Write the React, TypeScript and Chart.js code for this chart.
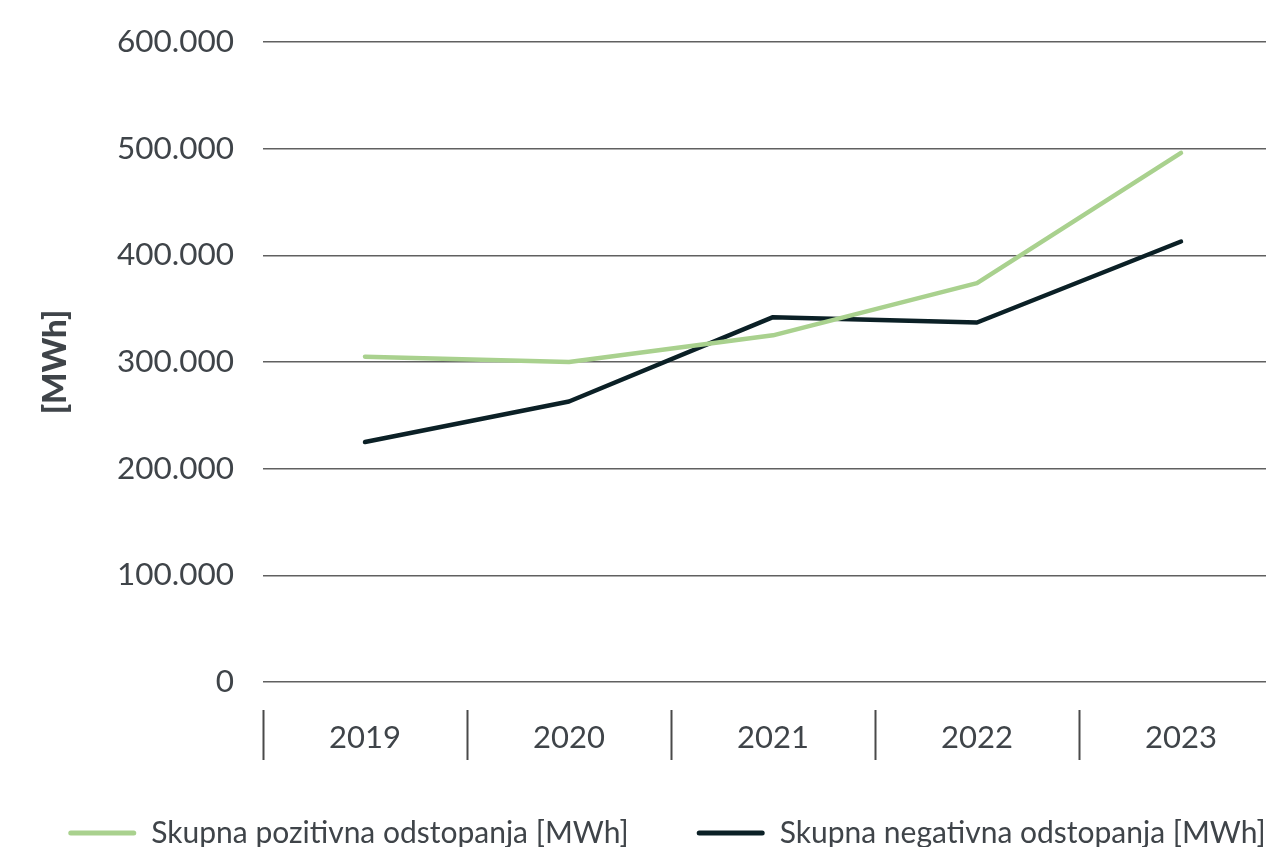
import React, { useEffect, useRef } from "react";
import { Chart, registerables } from "chart.js";

Chart.register(...registerables);

const years = ["2019", "2020", "2021", "2022", "2023"];
const positiveValues = [305000, 300000, 325000, 374000, 496000];
const negativeValues = [225000, 263000, 342000, 337000, 413000];
const seriesLabels = [
  "Skupna pozitivna odstopanja [MWh]",
  "Skupna negativna odstopanja [MWh]",
];
const axisTitle = "[MWh]";

const GREEN = "#a9d18e";
const DARK = "#0b2026";
const TEXT = "#3f4449";
const GRID = "#606060";
const FONT = "Lato";

const CANVAS_W = 1334;
const CANVAS_H = 858;

function fmt(v: number): string {
  return String(Math.round(v)).replace(/\B(?=(\d{3})+(?!\d))/g, ".");
}

export default function App() {
  const ref = useRef<HTMLCanvasElement>(null);

  useEffect(() => {
    if (!ref.current) return;
    const chart = new Chart(ref.current, {
      type: "line",
      data: {
        labels: years,
        datasets: [
          {
            label: seriesLabels[0],
            data: positiveValues,
            borderColor: GREEN,
            backgroundColor: GREEN,
            borderWidth: 4.5,
            borderCapStyle: "round",
            borderJoinStyle: "round",
            pointRadius: 0,
            tension: 0,
            fill: false,
          },
          {
            label: seriesLabels[1],
            data: negativeValues,
            borderColor: DARK,
            backgroundColor: DARK,
            borderWidth: 4.5,
            borderCapStyle: "round",
            borderJoinStyle: "round",
            pointRadius: 0,
            tension: 0,
            fill: false,
          },
        ],
      },
      options: {
        responsive: false,
        animation: false,
        layout: { padding: { top: 42, left: 0, right: 0, bottom: 0 } },
        plugins: {
          tooltip: { enabled: false },
          legend: {
            display: true,
            position: "bottom",
            align: "center",
            labels: {
              boxWidth: 68,
              boxHeight: 5,
              useBorderRadius: true,
              borderRadius: 2.5,
              padding: 68,
              color: TEXT,
              font: { family: FONT, size: 30 },
              generateLabels: (c: any) =>
                Chart.defaults.plugins.legend.labels
                  .generateLabels(c)
                  .map((l: any) => ({ ...l, lineWidth: 0, strokeStyle: l.fillStyle })),
            },
          },
        },
        scales: {
          x: {
            type: "category",
            offset: true,
            border: { display: false },
            grid: {
              offset: true,
              drawOnChartArea: false,
              drawTicks: true,
              tickLength: 78,
              tickColor: "#4a4a4a",
              tickWidth: 2,
              tickBorderDash: [0, 28, 50, 200],
            },
            ticks: {
              color: TEXT,
              font: { family: FONT, size: 31 },
              padding: -40.6,
              maxRotation: 0,
            },
            afterFit: (s: any) => {
              s.height = 68;
            },
          },
          y: {
            type: "linear",
            position: "left",
            min: 0,
            max: 600000,
            border: { display: false },
            grid: {
              color: GRID,
              lineWidth: 1.5,
              drawTicks: false,
            },
            ticks: {
              stepSize: 100000,
              color: TEXT,
              font: { family: FONT, size: 31.5 },
              padding: 29,
              callback: (v: any) => fmt(Number(v)),
            },
            title: {
              display: true,
              text: axisTitle,
              color: TEXT,
              font: { family: FONT, size: 33, weight: 900 },
              padding: { top: 36, bottom: 0 },
            },
            afterFit: (s: any) => {
              s.width = 263;
              s.paddingTop = 0;
              s.paddingBottom = 0;
            },
          },
          yRight: {
            type: "linear",
            position: "right",
            display: true,
            border: { display: false },
            grid: { display: false },
            ticks: { display: false },
            afterFit: (s: any) => {
              s.width = 51;
              s.paddingTop = 0;
              s.paddingBottom = 0;
            },
          },
        },
      },
    });
    return () => chart.destroy();
  }, []);

  return (
    <div
      style={{
        position: "fixed",
        left: 0,
        top: 0,
        width: 1266,
        height: 847,
        overflow: "hidden",
        background: "#ffffff",
      }}
    >
      <canvas
        ref={ref}
        width={CANVAS_W}
        height={CANVAS_H}
        style={{ display: "block", width: CANVAS_W, height: CANVAS_H }}
      />
    </div>
  );
}
